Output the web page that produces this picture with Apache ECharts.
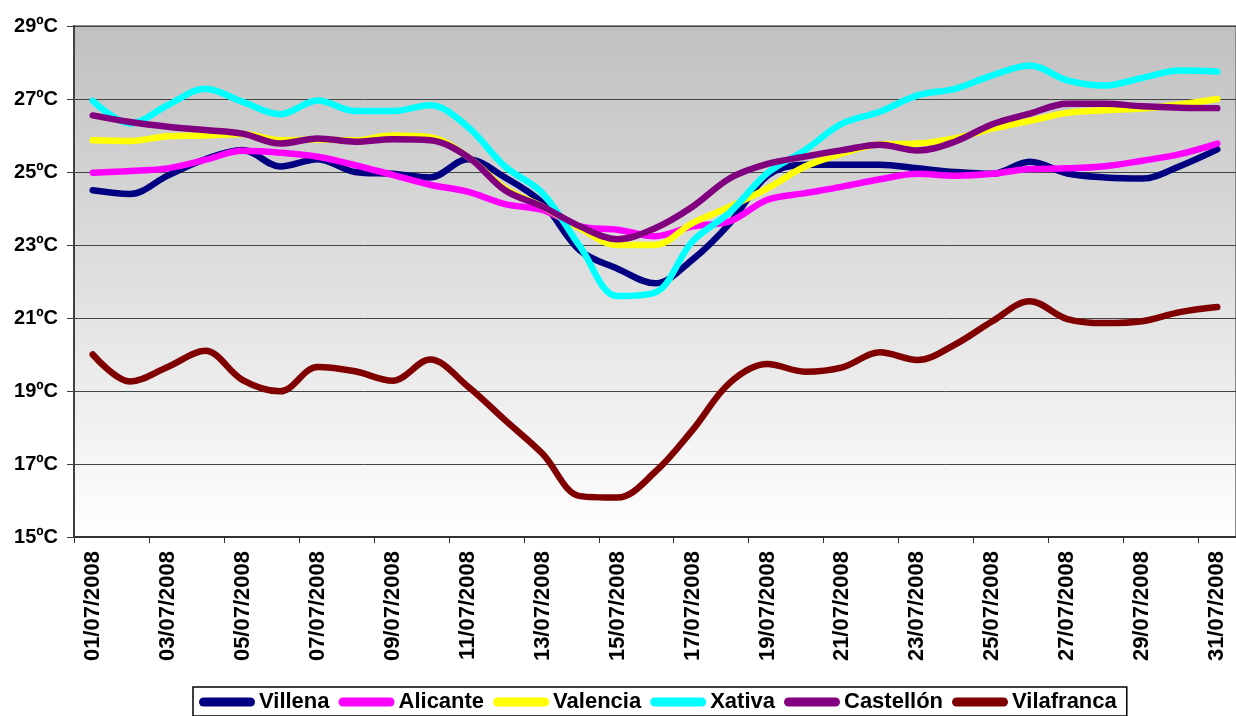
<!DOCTYPE html>
<html>
<head>
<meta charset="utf-8">
<script src="https://cdn.jsdelivr.net/npm/echarts@6/dist/echarts.min.js"></script>
<style>
html,body{margin:0;padding:0;background:#fff;}
#chart{width:1236px;height:716px;}
</style>
</head>
<body>
<div id="chart"></div>
<script>
var dates = ["01/07/2008","02/07/2008","03/07/2008","04/07/2008","05/07/2008","06/07/2008","07/07/2008","08/07/2008","09/07/2008","10/07/2008",
             "11/07/2008","12/07/2008","13/07/2008","14/07/2008","15/07/2008","16/07/2008","17/07/2008","18/07/2008","19/07/2008","20/07/2008",
             "21/07/2008","22/07/2008","23/07/2008","24/07/2008","25/07/2008","26/07/2008","27/07/2008","28/07/2008","29/07/2008","30/07/2008","31/07/2008"];
var seriesNames = ["Villena","Alicante","Valencia","Xativa","Castellón","Vilafranca"];
var villena    = [24.5, 24.4, 24.9, 25.35, 25.6, 25.15, 25.35, 25.0, 24.95, 24.85, 25.35, 24.85, 24.15, 22.85, 22.35, 21.95, 22.6, 23.6, 24.9, 25.2, 25.2, 25.2, 25.1, 25.0, 24.95, 25.28, 24.96, 24.85, 24.82, 25.16, 25.62];
var alicante   = [24.98, 25.03, 25.1, 25.33, 25.58, 25.53, 25.42, 25.19, 24.92, 24.65, 24.46, 24.12, 23.96, 23.51, 23.42, 23.24, 23.51, 23.65, 24.24, 24.42, 24.6, 24.8, 24.95, 24.9, 24.95, 25.08, 25.1, 25.16, 25.31, 25.49, 25.78];
var valencia   = [25.87, 25.85, 25.98, 26.0, 26.04, 25.87, 25.89, 25.87, 26.0, 25.95, 25.42, 24.55, 24.05, 23.46, 23.0, 23.0, 23.6, 24.05, 24.55, 25.15, 25.51, 25.76, 25.78, 25.92, 26.19, 26.4, 26.62, 26.69, 26.74, 26.85, 27.0];
var xativa     = [26.95, 26.33, 26.83, 27.28, 26.92, 26.58, 26.96, 26.67, 26.67, 26.83, 26.24, 25.15, 24.42, 22.96, 21.6, 21.7, 23.1, 23.9, 24.97, 25.6, 26.33, 26.65, 27.1, 27.28, 27.65, 27.92, 27.51, 27.37, 27.58, 27.78, 27.75];
var castellon  = [26.55, 26.37, 26.24, 26.15, 26.05, 25.78, 25.92, 25.83, 25.9, 25.87, 25.42, 24.5, 24.05, 23.51, 23.16, 23.46, 24.05, 24.83, 25.22, 25.42, 25.6, 25.75, 25.59, 25.83, 26.31, 26.6, 26.87, 26.87, 26.8, 26.76, 26.75];
var vilafranca = [20.0, 19.26, 19.66, 20.1, 19.3, 18.99, 19.66, 19.54, 19.28, 19.86, 19.13, 18.2, 17.28, 16.12, 16.08, 16.78, 17.93, 19.23, 19.74, 19.53, 19.65, 20.06, 19.85, 20.27, 20.91, 21.46, 20.97, 20.86, 20.91, 21.16, 21.3];
var colors = ["#000080","#FF00FF","#FFFF00","#00FFFF","#800080","#800000"];
var yMin = 15, yMax = 29, yStep = 2;

var allData = [villena, alicante, valencia, xativa, castellon, vilafranca];
var chart = echarts.init(document.getElementById('chart'), null, {renderer:'canvas'});
var font = "'Liberation Sans', Arial, sans-serif";
var series = seriesNames.map(function(n, i){
  return {
    name: n, type: 'line', data: allData[i], smooth: 0.35, symbol: 'none',
    lineStyle: {color: colors[i], width: 6.5, cap: 'round', join: 'round'},
    itemStyle: {color: colors[i]}
  };
});
chart.setOption({
  animation: false,
  color: colors,
  grid: {
    left: 74, top: 26, right: 0, bottom: 179, show: true,
    backgroundColor: new echarts.graphic.LinearGradient(0,0,0,1,[{offset:0,color:'#c0c0c0'},{offset:1,color:'#ffffff'}]),
    borderColor: '#8a8a8a', borderWidth: 2
  },
  xAxis: {
    type: 'category', data: dates, boundaryGap: true,
    axisLine: {lineStyle: {color: '#333', width: 2}},
    axisTick: {show: true, interval: 1, length: 6, lineStyle: {color: '#333', width: 1}},
    axisLabel: {interval: 1, rotate: 90, margin: 14, color: '#000', fontWeight: 'bold', fontSize: 22, fontFamily: font},
    splitLine: {show: false}
  },
  yAxis: {
    type: 'value', min: yMin, max: yMax, interval: yStep,
    axisLine: {show: true, lineStyle: {color: '#404040', width: 2}},
    axisTick: {show: true, length: 7, lineStyle: {color: '#404040', width: 1}},
    axisLabel: {formatter: '{value}ºC', margin: 16, color: '#000', fontWeight: 'bold', fontSize: 20, fontFamily: font},
    splitLine: {lineStyle: {color: '#444', width: 1}}
  },
  legend: {
    data: seriesNames, left: 193, top: 687, orient: 'horizontal',
    padding: [4, 10, 3, 6], itemGap: 9, itemWidth: 56, itemHeight: 9,
    icon: 'path://M4.5,0 H51.5 A4.5,4.5 0 0 1 51.5,9 H4.5 A4.5,4.5 0 0 1 4.5,0 Z',
    borderColor: '#000', borderWidth: 1.5, backgroundColor: '#fff',
    textStyle: {color: '#000', fontWeight: 'bold', fontSize: 22, fontFamily: font, padding: [0,0,0,-1]}
  },
  series: series
});
</script>
</body>
</html>
